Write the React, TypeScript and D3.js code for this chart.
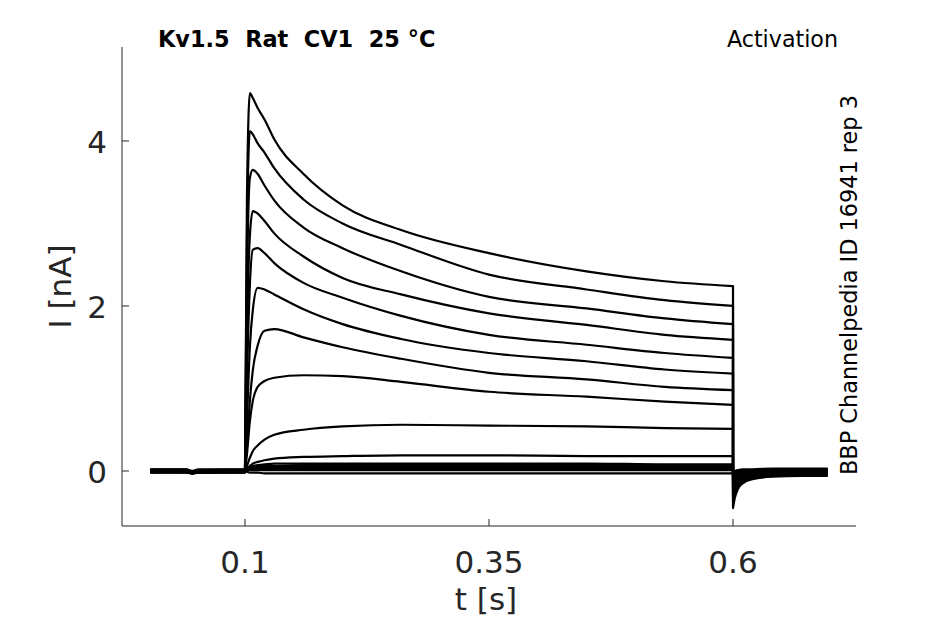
import * as d3 from "d3";

// time grids (s)
const preTimes = [0.003, 0.04, 0.046, 0.052, 0.1];
const stepTimes = [0.1, 0.102, 0.105, 0.108, 0.113, 0.12, 0.13, 0.16, 0.2, 0.26, 0.35, 0.45, 0.53, 0.6];
const tailTimes = [0.6, 0.602, 0.605, 0.61, 0.62, 0.64, 0.67, 0.697];

// current (nA) per sweep, holding period before the step
const preSweeps = [
  [0.01, 0.0, -0.02, 0.0, 0.01],
  [0.0, -0.01, -0.03, -0.01, 0.0],
  [0.02, 0.01, -0.01, 0.01, 0.02],
  [-0.01, -0.02, -0.03, -0.02, -0.01],
  [0.0, 0.0, -0.02, 0.0, 0.0],
  [0.01, 0.01, -0.01, 0.0, 0.01],
  [-0.02, -0.02, -0.03, -0.02, -0.02],
  [0.0, 0.01, -0.02, 0.0, 0.0],
  [0.02, 0.02, 0.0, 0.02, 0.02],
  [-0.01, -0.01, -0.03, -0.01, -0.01],
  [0.0, 0.0, -0.02, 0.0, 0.0],
  [0.01, 0.0, -0.02, 0.01, 0.01],
  [-0.02, -0.01, -0.03, -0.02, -0.02],
  [0.0, -0.01, -0.02, 0.0, 0.0],
  [0.01, 0.02, -0.01, 0.01, 0.01],
  [-0.01, 0.0, -0.03, -0.01, -0.01],
];

// during the depolarising step
const stepSweeps = [
  [0, 3.3, 4.58, 4.52, 4.4, 4.26, 4.02, 3.6, 3.22, 2.92, 2.64, 2.42, 2.3, 2.24],
  [0, 2.8, 4.12, 4.08, 3.97, 3.86, 3.67, 3.29, 3.0, 2.74, 2.38, 2.2, 2.07, 2.0],
  [0, 2.2, 3.55, 3.65, 3.6, 3.46, 3.28, 2.95, 2.7, 2.42, 2.11, 1.97, 1.85, 1.78],
  [0, 1.6, 2.85, 3.15, 3.12, 3.03, 2.88, 2.6, 2.34, 2.14, 1.91, 1.77, 1.65, 1.59],
  [0, 1.1, 2.25, 2.68, 2.7, 2.64, 2.52, 2.28, 2.1, 1.88, 1.65, 1.53, 1.43, 1.37],
  [0, 0.6, 1.5, 1.95, 2.22, 2.2, 2.14, 1.96, 1.78, 1.6, 1.43, 1.33, 1.23, 1.18],
  [0, 0.3, 0.85, 1.22, 1.52, 1.7, 1.72, 1.62, 1.5, 1.36, 1.19, 1.11, 1.02, 0.98],
  [0, 0.2, 0.6, 0.85, 1.02, 1.09, 1.13, 1.16, 1.15, 1.08, 0.96, 0.9, 0.84, 0.8],
  [0, 0.06, 0.16, 0.24, 0.31, 0.38, 0.44, 0.5, 0.54, 0.56, 0.55, 0.54, 0.52, 0.51],
  [0, 0.03, 0.06, 0.09, 0.11, 0.13, 0.15, 0.17, 0.18, 0.19, 0.19, 0.18, 0.18, 0.18],
  [0, 0.02, 0.04, 0.06, 0.07, 0.08, 0.09, 0.09, 0.09, 0.09, 0.09, 0.09, 0.08, 0.08],
  [0, 0.02, 0.03, 0.04, 0.05, 0.06, 0.06, 0.07, 0.07, 0.07, 0.07, 0.07, 0.07, 0.07],
  [0, 0.01, 0.02, 0.03, 0.04, 0.04, 0.05, 0.05, 0.05, 0.05, 0.05, 0.05, 0.05, 0.05],
  [0, 0.01, 0.02, 0.02, 0.03, 0.03, 0.03, 0.03, 0.03, 0.03, 0.03, 0.03, 0.03, 0.03],
  [0, 0, 0.01, 0.01, 0.01, 0.01, 0.01, 0.01, 0.01, 0.01, 0.01, 0.01, 0.01, 0.01],
  [0, -0.01, -0.02, -0.02, -0.02, -0.03, -0.03, -0.03, -0.03, -0.03, -0.03, -0.03, -0.03, -0.03],
];

// tail currents after repolarisation
const tailSweeps = [
  [-0.45, -0.32, -0.22, -0.15, -0.1, -0.07, -0.06, -0.06],
  [-0.38, -0.27, -0.19, -0.13, -0.09, -0.06, -0.05, -0.05],
  [-0.32, -0.23, -0.16, -0.11, -0.08, -0.05, -0.05, -0.04],
  [-0.27, -0.19, -0.13, -0.09, -0.06, -0.04, -0.04, -0.04],
  [-0.22, -0.16, -0.11, -0.08, -0.05, -0.04, -0.03, -0.03],
  [-0.17, -0.12, -0.09, -0.06, -0.04, -0.03, -0.03, -0.03],
  [-0.13, -0.09, -0.07, -0.05, -0.03, -0.02, -0.02, -0.02],
  [-0.1, -0.07, -0.05, -0.04, -0.02, -0.02, -0.01, -0.01],
  [-0.06, -0.04, -0.03, -0.02, -0.01, -0.01, 0.0, 0.0],
  [-0.03, -0.02, -0.01, -0.01, 0.0, 0.0, 0.01, 0.01],
  [-0.02, -0.01, 0.0, 0.01, 0.01, 0.02, 0.02, 0.02],
  [-0.01, 0.0, 0.01, 0.02, 0.02, 0.03, 0.03, 0.03],
  [-0.02, -0.02, -0.01, -0.01, -0.01, 0.0, 0.0, 0.0],
  [-0.01, -0.01, 0.0, 0.0, 0.01, 0.01, 0.01, 0.01],
  [-0.03, -0.03, -0.02, -0.02, -0.02, -0.01, -0.01, -0.01],
  [-0.04, -0.04, -0.03, -0.03, -0.03, -0.02, -0.02, -0.02],
];

const xTicks = [0.1, 0.35, 0.6];
const yTicks = [0, 2, 4];

const W = 945;
const H = 624;
const FONT = "DejaVu Sans, sans-serif";
const AXIS = "#262626";

const x = d3.scaleLinear().domain([-0.026, 0.726]).range([122, 856]);
const y = d3.scaleLinear().domain([-0.667, 5.139]).range([526, 47]);

type Pt = [number, number];
const straight = d3.line<Pt>().x(d => x(d[0])).y(d => y(d[1]));
const smooth = d3.line<Pt>().x(d => x(d[0])).y(d => y(d[1])).curve(d3.curveMonotoneX);

const zip = (ts: number[], vs: number[]): Pt[] => ts.map((t, i) => [t, vs[i]]);

function sweepPath(i: number) {
  const a = straight(zip(preTimes, preSweeps[i])) ?? "";
  const b = (smooth(zip(stepTimes, stepSweeps[i])) ?? "").replace(/^M/, "L");
  const c = (smooth(zip(tailTimes, tailSweeps[i])) ?? "").replace(/^M/, "L");
  return a + b + c;
}

export default function App() {
  const [x0, x1] = x.range();
  const [y0, y1] = y.range();
  return (
    <svg
      width={W}
      height={H}
      viewBox={`0 0 ${W} ${H}`}
      style={{ position: "absolute", left: 0, top: 0, background: "#fff" }}
      fontFamily={FONT}
    >
      <rect width={W} height={H} fill="#fff" />

      {stepSweeps.map((_, i) => (
        <path
          key={i}
          d={sweepPath(i)}
          fill="none"
          stroke="#000"
          strokeWidth={2.2}
          strokeLinejoin="round"
        />
      ))}

      {/* axes */}
      <line x1={x0} x2={x0} y1={y0} y2={y1} stroke={AXIS} strokeWidth={1} />
      <line x1={x0} x2={x1} y1={y0} y2={y0} stroke={AXIS} strokeWidth={1} />

      {xTicks.map(t => (
        <g key={t}>
          <line x1={x(t)} x2={x(t)} y1={y0} y2={y0 - 7} stroke={AXIS} />
          <text x={x(t)} y={573} textAnchor="middle" fontSize={31} fill={AXIS}>
            {t}
          </text>
        </g>
      ))}
      {yTicks.map(v => (
        <g key={v}>
          <line x1={x0} x2={x0 + 7} y1={y(v)} y2={y(v)} stroke={AXIS} />
          <text x={107} y={y(v) + 12} textAnchor="end" fontSize={31} fill={AXIS}>
            {v}
          </text>
        </g>
      ))}

      <text x={486} y={610} textAnchor="middle" fontSize={31} fill={AXIS}>
        t [s]
      </text>
      <text
        transform={`translate(71, ${(y0 + y1) / 2}) rotate(-90)`}
        textAnchor="middle"
        fontSize={31}
        fill={AXIS}
      >
        I [nA]
      </text>

      <text x={158} y={47} fontSize={22.4} fontWeight="bold" fill="#000" style={{ whiteSpace: "pre" }}>
        {"Kv1.5  Rat  CV1  25 °C"}
      </text>
      <text x={838} y={47} fontSize={22.2} textAnchor="end" fill="#000">
        Activation
      </text>
      <text transform="translate(857, 475) rotate(-90)" fontSize={22.4} fill="#000">
        BBP Channelpedia ID 16941 rep 3
      </text>
    </svg>
  );
}
